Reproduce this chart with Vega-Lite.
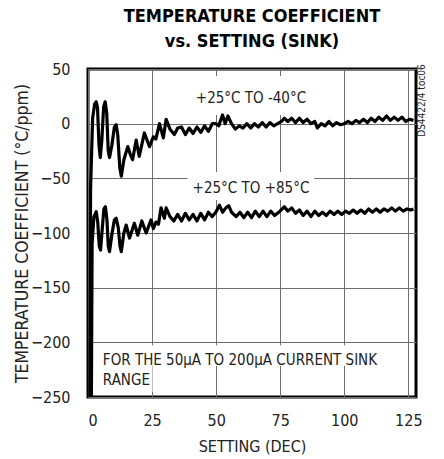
{
  "$schema": "https://vega.github.io/schema/vega-lite/v6.json",
  "width": 328,
  "height": 328,
  "autosize": {"type": "none"},
  "padding": {"left": 88, "top": 69, "right": 28, "bottom": 62},
  "background": "white",
  "config": {
    "font": "DejaVu Sans Condensed, Liberation Sans",
    "view": {"stroke": "black", "strokeWidth": 3},
    "axis": {
      "grid": true,
      "gridColor": "#6e6e6e",
      "gridWidth": 1,
      "domain": false,
      "ticks": false,
      "labelFont": "DejaVu Sans Condensed, Liberation Sans",
      "labelFontSize": 16,
      "labelColor": "#222",
      "titleFont": "DejaVu Sans Condensed, Liberation Sans",
      "titleFontSize": 16,
      "titleFontWeight": "normal",
      "titleColor": "#222"
    },
    "title": {
      "font": "DejaVu Sans Condensed, Liberation Sans",
      "fontSize": 18,
      "fontWeight": "bold",
      "anchor": "middle",
      "lineHeight": 25,
      "offset": 10,
      "color": "black"
    }
  },
  "title": {"text": ["TEMPERATURE COEFFICIENT", "vs. SETTING (SINK)"]},
  "datasets": {
    "curves": [
      {"setting": 0.7, "tc": -260, "range": "+25C to -40C"},
      {"setting": 1.0, "tc": -60, "range": "+25C to -40C"},
      {"setting": 1.8, "tc": 5, "range": "+25C to -40C"},
      {"setting": 2.6, "tc": 18, "range": "+25C to -40C"},
      {"setting": 3.2, "tc": 20, "range": "+25C to -40C"},
      {"setting": 3.7, "tc": 15, "range": "+25C to -40C"},
      {"setting": 4.3, "tc": -20, "range": "+25C to -40C"},
      {"setting": 4.8, "tc": -31, "range": "+25C to -40C"},
      {"setting": 5.4, "tc": -15, "range": "+25C to -40C"},
      {"setting": 6.1, "tc": 15, "range": "+25C to -40C"},
      {"setting": 6.7, "tc": 20, "range": "+25C to -40C"},
      {"setting": 7.3, "tc": 10, "range": "+25C to -40C"},
      {"setting": 7.9, "tc": -25, "range": "+25C to -40C"},
      {"setting": 8.4, "tc": -31, "range": "+25C to -40C"},
      {"setting": 9.3, "tc": -20, "range": "+25C to -40C"},
      {"setting": 10.3, "tc": -3, "range": "+25C to -40C"},
      {"setting": 11.0, "tc": -1, "range": "+25C to -40C"},
      {"setting": 11.6, "tc": -10, "range": "+25C to -40C"},
      {"setting": 12.4, "tc": -40, "range": "+25C to -40C"},
      {"setting": 13.0, "tc": -48, "range": "+25C to -40C"},
      {"setting": 14.0, "tc": -33, "range": "+25C to -40C"},
      {"setting": 15.5, "tc": -21, "range": "+25C to -40C"},
      {"setting": 16.5, "tc": -28, "range": "+25C to -40C"},
      {"setting": 17.4, "tc": -33, "range": "+25C to -40C"},
      {"setting": 18.8, "tc": -15, "range": "+25C to -40C"},
      {"setting": 20.0, "tc": -30, "range": "+25C to -40C"},
      {"setting": 22.0, "tc": -8.5, "range": "+25C to -40C"},
      {"setting": 24.0, "tc": -21, "range": "+25C to -40C"},
      {"setting": 25.5, "tc": -12, "range": "+25C to -40C"},
      {"setting": 26.5, "tc": -14, "range": "+25C to -40C"},
      {"setting": 27.9, "tc": 0, "range": "+25C to -40C"},
      {"setting": 29.4, "tc": -13, "range": "+25C to -40C"},
      {"setting": 30.5, "tc": 4, "range": "+25C to -40C"},
      {"setting": 32.0, "tc": -5, "range": "+25C to -40C"},
      {"setting": 33.7, "tc": -10, "range": "+25C to -40C"},
      {"setting": 35.0, "tc": -4, "range": "+25C to -40C"},
      {"setting": 36.5, "tc": -3, "range": "+25C to -40C"},
      {"setting": 38.0, "tc": -10, "range": "+25C to -40C"},
      {"setting": 39.5, "tc": -4, "range": "+25C to -40C"},
      {"setting": 41.0, "tc": -9, "range": "+25C to -40C"},
      {"setting": 42.5, "tc": -3, "range": "+25C to -40C"},
      {"setting": 44.0, "tc": -8, "range": "+25C to -40C"},
      {"setting": 45.5, "tc": -2, "range": "+25C to -40C"},
      {"setting": 47.0, "tc": -7, "range": "+25C to -40C"},
      {"setting": 48.5, "tc": 0, "range": "+25C to -40C"},
      {"setting": 50.0, "tc": 0, "range": "+25C to -40C"},
      {"setting": 51.0, "tc": -2, "range": "+25C to -40C"},
      {"setting": 52.5, "tc": 8, "range": "+25C to -40C"},
      {"setting": 53.5, "tc": 0, "range": "+25C to -40C"},
      {"setting": 54.6, "tc": 7, "range": "+25C to -40C"},
      {"setting": 56.0, "tc": 0, "range": "+25C to -40C"},
      {"setting": 57.5, "tc": -5, "range": "+25C to -40C"},
      {"setting": 59.0, "tc": -2, "range": "+25C to -40C"},
      {"setting": 60.5, "tc": -4, "range": "+25C to -40C"},
      {"setting": 62.0, "tc": 0, "range": "+25C to -40C"},
      {"setting": 63.5, "tc": -4, "range": "+25C to -40C"},
      {"setting": 65.0, "tc": 0, "range": "+25C to -40C"},
      {"setting": 66.5, "tc": -3, "range": "+25C to -40C"},
      {"setting": 68.0, "tc": 1, "range": "+25C to -40C"},
      {"setting": 69.5, "tc": -3, "range": "+25C to -40C"},
      {"setting": 71.0, "tc": 1, "range": "+25C to -40C"},
      {"setting": 72.5, "tc": -2, "range": "+25C to -40C"},
      {"setting": 74.0, "tc": 0, "range": "+25C to -40C"},
      {"setting": 75.5, "tc": 2, "range": "+25C to -40C"},
      {"setting": 76.6, "tc": 5, "range": "+25C to -40C"},
      {"setting": 78.0, "tc": 2, "range": "+25C to -40C"},
      {"setting": 79.5, "tc": 5, "range": "+25C to -40C"},
      {"setting": 81.0, "tc": 1, "range": "+25C to -40C"},
      {"setting": 82.5, "tc": 5, "range": "+25C to -40C"},
      {"setting": 84.0, "tc": 1, "range": "+25C to -40C"},
      {"setting": 85.5, "tc": 4, "range": "+25C to -40C"},
      {"setting": 87.0, "tc": 0, "range": "+25C to -40C"},
      {"setting": 88.5, "tc": 2, "range": "+25C to -40C"},
      {"setting": 89.5, "tc": -4, "range": "+25C to -40C"},
      {"setting": 91.0, "tc": 0, "range": "+25C to -40C"},
      {"setting": 92.5, "tc": -2, "range": "+25C to -40C"},
      {"setting": 94.0, "tc": 2, "range": "+25C to -40C"},
      {"setting": 95.5, "tc": -2, "range": "+25C to -40C"},
      {"setting": 97.0, "tc": 1, "range": "+25C to -40C"},
      {"setting": 98.5, "tc": -1, "range": "+25C to -40C"},
      {"setting": 100.0, "tc": 0, "range": "+25C to -40C"},
      {"setting": 101.5, "tc": 2, "range": "+25C to -40C"},
      {"setting": 103.0, "tc": 0, "range": "+25C to -40C"},
      {"setting": 104.5, "tc": 3, "range": "+25C to -40C"},
      {"setting": 106.0, "tc": 1, "range": "+25C to -40C"},
      {"setting": 107.5, "tc": 4, "range": "+25C to -40C"},
      {"setting": 109.0, "tc": 1, "range": "+25C to -40C"},
      {"setting": 110.5, "tc": 5, "range": "+25C to -40C"},
      {"setting": 112.0, "tc": 2, "range": "+25C to -40C"},
      {"setting": 113.5, "tc": 6, "range": "+25C to -40C"},
      {"setting": 115.0, "tc": 3, "range": "+25C to -40C"},
      {"setting": 116.5, "tc": 7, "range": "+25C to -40C"},
      {"setting": 118.0, "tc": 3, "range": "+25C to -40C"},
      {"setting": 119.5, "tc": 6, "range": "+25C to -40C"},
      {"setting": 121.0, "tc": 3, "range": "+25C to -40C"},
      {"setting": 122.5, "tc": 6, "range": "+25C to -40C"},
      {"setting": 124.0, "tc": 2, "range": "+25C to -40C"},
      {"setting": 125.5, "tc": 4, "range": "+25C to -40C"},
      {"setting": 127.0, "tc": 3, "range": "+25C to -40C"},
      {"setting": 1.3, "tc": -260, "range": "+25C to +85C"},
      {"setting": 1.6, "tc": -110, "range": "+25C to +85C"},
      {"setting": 2.3, "tc": -85, "range": "+25C to +85C"},
      {"setting": 3.2, "tc": -80.5, "range": "+25C to +85C"},
      {"setting": 3.8, "tc": -90, "range": "+25C to +85C"},
      {"setting": 4.4, "tc": -112, "range": "+25C to +85C"},
      {"setting": 4.9, "tc": -115.6, "range": "+25C to +85C"},
      {"setting": 5.6, "tc": -95, "range": "+25C to +85C"},
      {"setting": 6.2, "tc": -78, "range": "+25C to +85C"},
      {"setting": 6.8, "tc": -76, "range": "+25C to +85C"},
      {"setting": 7.4, "tc": -88, "range": "+25C to +85C"},
      {"setting": 7.9, "tc": -112, "range": "+25C to +85C"},
      {"setting": 8.4, "tc": -117, "range": "+25C to +85C"},
      {"setting": 9.4, "tc": -100, "range": "+25C to +85C"},
      {"setting": 10.3, "tc": -88, "range": "+25C to +85C"},
      {"setting": 11.0, "tc": -86.5, "range": "+25C to +85C"},
      {"setting": 11.8, "tc": -95, "range": "+25C to +85C"},
      {"setting": 12.5, "tc": -112, "range": "+25C to +85C"},
      {"setting": 13.0, "tc": -117, "range": "+25C to +85C"},
      {"setting": 14.0, "tc": -100, "range": "+25C to +85C"},
      {"setting": 14.9, "tc": -92.7, "range": "+25C to +85C"},
      {"setting": 16.2, "tc": -104.6, "range": "+25C to +85C"},
      {"setting": 18.1, "tc": -91, "range": "+25C to +85C"},
      {"setting": 19.4, "tc": -102, "range": "+25C to +85C"},
      {"setting": 21.0, "tc": -89, "range": "+25C to +85C"},
      {"setting": 22.7, "tc": -100, "range": "+25C to +85C"},
      {"setting": 24.6, "tc": -88, "range": "+25C to +85C"},
      {"setting": 25.5, "tc": -96, "range": "+25C to +85C"},
      {"setting": 26.5, "tc": -90, "range": "+25C to +85C"},
      {"setting": 27.5, "tc": -92, "range": "+25C to +85C"},
      {"setting": 28.5, "tc": -77, "range": "+25C to +85C"},
      {"setting": 29.8, "tc": -86.5, "range": "+25C to +85C"},
      {"setting": 30.5, "tc": -77, "range": "+25C to +85C"},
      {"setting": 32.0, "tc": -85, "range": "+25C to +85C"},
      {"setting": 33.5, "tc": -89, "range": "+25C to +85C"},
      {"setting": 35.0, "tc": -83, "range": "+25C to +85C"},
      {"setting": 36.5, "tc": -89, "range": "+25C to +85C"},
      {"setting": 38.0, "tc": -82, "range": "+25C to +85C"},
      {"setting": 39.5, "tc": -88, "range": "+25C to +85C"},
      {"setting": 41.0, "tc": -83, "range": "+25C to +85C"},
      {"setting": 42.5, "tc": -89, "range": "+25C to +85C"},
      {"setting": 44.0, "tc": -82, "range": "+25C to +85C"},
      {"setting": 45.5, "tc": -88, "range": "+25C to +85C"},
      {"setting": 47.0, "tc": -81, "range": "+25C to +85C"},
      {"setting": 48.5, "tc": -85, "range": "+25C to +85C"},
      {"setting": 50.0, "tc": -80.5, "range": "+25C to +85C"},
      {"setting": 51.3, "tc": -74.5, "range": "+25C to +85C"},
      {"setting": 52.5, "tc": -81, "range": "+25C to +85C"},
      {"setting": 53.8, "tc": -77, "range": "+25C to +85C"},
      {"setting": 54.9, "tc": -75, "range": "+25C to +85C"},
      {"setting": 56.0, "tc": -81, "range": "+25C to +85C"},
      {"setting": 57.8, "tc": -85, "range": "+25C to +85C"},
      {"setting": 59.3, "tc": -81, "range": "+25C to +85C"},
      {"setting": 60.8, "tc": -86, "range": "+25C to +85C"},
      {"setting": 62.3, "tc": -81, "range": "+25C to +85C"},
      {"setting": 63.8, "tc": -86, "range": "+25C to +85C"},
      {"setting": 65.3, "tc": -80, "range": "+25C to +85C"},
      {"setting": 66.8, "tc": -85, "range": "+25C to +85C"},
      {"setting": 68.3, "tc": -80, "range": "+25C to +85C"},
      {"setting": 69.8, "tc": -85, "range": "+25C to +85C"},
      {"setting": 71.3, "tc": -80, "range": "+25C to +85C"},
      {"setting": 72.8, "tc": -84, "range": "+25C to +85C"},
      {"setting": 74.7, "tc": -80.5, "range": "+25C to +85C"},
      {"setting": 76.6, "tc": -76, "range": "+25C to +85C"},
      {"setting": 78.0, "tc": -80, "range": "+25C to +85C"},
      {"setting": 79.5, "tc": -77, "range": "+25C to +85C"},
      {"setting": 81.0, "tc": -82, "range": "+25C to +85C"},
      {"setting": 82.5, "tc": -79, "range": "+25C to +85C"},
      {"setting": 84.0, "tc": -84, "range": "+25C to +85C"},
      {"setting": 85.5, "tc": -80, "range": "+25C to +85C"},
      {"setting": 87.0, "tc": -85, "range": "+25C to +85C"},
      {"setting": 88.5, "tc": -80, "range": "+25C to +85C"},
      {"setting": 90.0, "tc": -84, "range": "+25C to +85C"},
      {"setting": 91.5, "tc": -81, "range": "+25C to +85C"},
      {"setting": 93.0, "tc": -84, "range": "+25C to +85C"},
      {"setting": 94.5, "tc": -80, "range": "+25C to +85C"},
      {"setting": 96.0, "tc": -83, "range": "+25C to +85C"},
      {"setting": 97.5, "tc": -80, "range": "+25C to +85C"},
      {"setting": 99.0, "tc": -83, "range": "+25C to +85C"},
      {"setting": 100.5, "tc": -80, "range": "+25C to +85C"},
      {"setting": 102.0, "tc": -82, "range": "+25C to +85C"},
      {"setting": 103.5, "tc": -79, "range": "+25C to +85C"},
      {"setting": 105.0, "tc": -82, "range": "+25C to +85C"},
      {"setting": 106.5, "tc": -79, "range": "+25C to +85C"},
      {"setting": 108.0, "tc": -82, "range": "+25C to +85C"},
      {"setting": 109.5, "tc": -78, "range": "+25C to +85C"},
      {"setting": 111.0, "tc": -81, "range": "+25C to +85C"},
      {"setting": 112.5, "tc": -78, "range": "+25C to +85C"},
      {"setting": 114.0, "tc": -81, "range": "+25C to +85C"},
      {"setting": 115.5, "tc": -78, "range": "+25C to +85C"},
      {"setting": 117.0, "tc": -80, "range": "+25C to +85C"},
      {"setting": 118.5, "tc": -77, "range": "+25C to +85C"},
      {"setting": 120.0, "tc": -80, "range": "+25C to +85C"},
      {"setting": 121.5, "tc": -77, "range": "+25C to +85C"},
      {"setting": 123.0, "tc": -80, "range": "+25C to +85C"},
      {"setting": 124.5, "tc": -78, "range": "+25C to +85C"},
      {"setting": 126.0, "tc": -79, "range": "+25C to +85C"},
      {"setting": 127.0, "tc": -78, "range": "+25C to +85C"}
    ],
    "one": [{}]
  },
  "data": {"name": "curves"},
  "encoding": {
    "x": {
      "type": "quantitative",
      "scale": {"domain": [0, 128], "nice": false, "zero": false},
      "axis": {"values": [0, 25, 50, 75, 100, 125], "title": "SETTING (DEC)", "labelPadding": 15, "titlePadding": 10}
    },
    "y": {
      "type": "quantitative",
      "scale": {"domain": [-250, 50], "nice": false, "zero": false},
      "axis": {"values": [-250, -200, -150, -100, -50, 0, 50], "title": "TEMPERATURE COEFFICIENT (°C/ppm)", "labelPadding": 18, "titlePadding": -1, "titleFontSize": 17.5}
    }
  },
  "layer": [
    {
      "data": {"name": "one"},
      "mark": {"type": "rect", "color": "white"},
      "encoding": {"x": {"datum": 38.8}, "x2": {"datum": 88.3}, "y": {"datum": 8}, "y2": {"datum": 43.6}}
    },
    {
      "data": {"name": "one"},
      "mark": {"type": "rect", "color": "white"},
      "encoding": {"x": {"datum": 38.8}, "x2": {"datum": 88.3}, "y": {"datum": -44.2}, "y2": {"datum": -69.8}}
    },
    {
      "data": {"name": "one"},
      "mark": {"type": "rect", "color": "white"},
      "encoding": {"x": {"datum": 4.5}, "x2": {"datum": 113.9}, "y": {"datum": -202.6}, "y2": {"datum": -221.7}}
    },
    {
      "data": {"name": "one"},
      "mark": {"type": "rect", "color": "white"},
      "encoding": {"x": {"datum": 4.5}, "x2": {"datum": 25.2}, "y": {"datum": -221.7}, "y2": {"datum": -245.5}}
    },
    {
      "mark": {"type": "line", "clip": true, "color": "black", "strokeWidth": 3.2, "strokeJoin": "round"},
      "encoding": {
        "x": {"field": "setting", "type": "quantitative"},
        "y": {"field": "tc", "type": "quantitative"},
        "detail": {"field": "range"}
      }
    },
    {
      "data": {"name": "one"},
      "mark": {"type": "text", "text": "+25°C TO -40°C", "fontSize": 15, "align": "center", "baseline": "alphabetic", "color": "#222"},
      "encoding": {"x": {"datum": 63.6}, "y": {"datum": 18.7}}
    },
    {
      "data": {"name": "one"},
      "mark": {"type": "text", "text": "+25°C TO +85°C", "fontSize": 15, "align": "center", "baseline": "alphabetic", "color": "#222"},
      "encoding": {"x": {"datum": 63.6}, "y": {"datum": -63.7}}
    },
    {
      "data": {"name": "one"},
      "mark": {"type": "text", "text": ["FOR THE 50μA TO 200μA CURRENT SINK", "RANGE"], "fontSize": 15, "lineHeight": 20, "align": "left", "baseline": "alphabetic", "color": "#222"},
      "encoding": {"x": {"datum": 5.8}, "y": {"datum": -221}}
    },
    {
      "data": {"name": "one"},
      "mark": {"type": "text", "text": "DS4422/4 toc06", "fontSize": 10, "angle": 270, "align": "center", "baseline": "middle", "color": "#222"},
      "encoding": {"x": {"datum": 130.3}, "y": {"datum": 21.2}}
    }
  ]
}
